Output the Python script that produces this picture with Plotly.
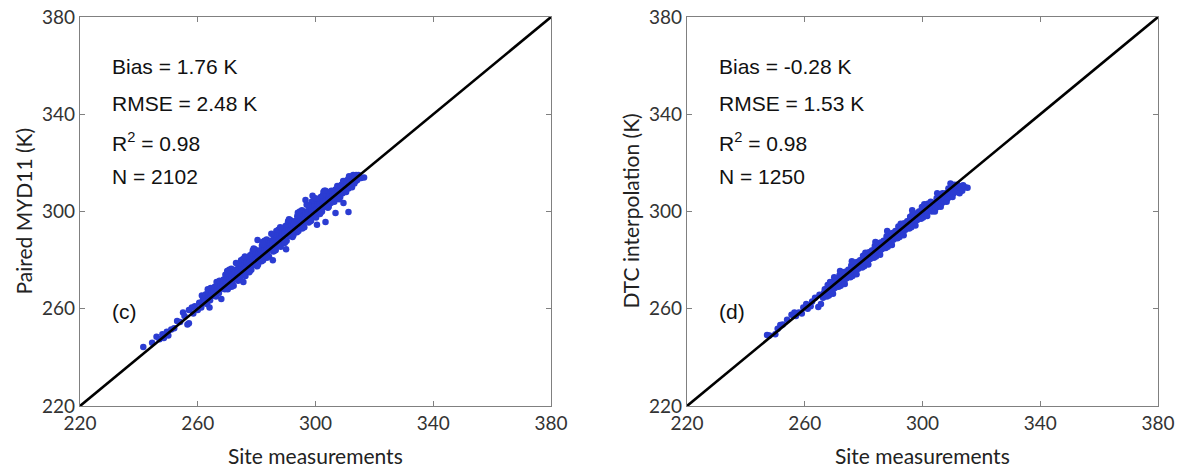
import plotly.graph_objects as go

# ---------------- data ----------------
ticks = [220, 260, 300, 340, 380]
axis_range = [220, 380]

# Panel (c): site measurements vs paired MYD11
site_c = [
    241.5, 244.5, 246.0, 247.0, 248.0, 248.5, 249.5, 250.0, 251.0, 252.0, 253.0, 254.0,
    255.0, 255.5, 256.5, 257.0, 257.0, 258.0, 258.5, 259.0, 260.0, 260.5,
    261.2, 261.5, 261.8, 261.4, 261.7, 262.2, 262.5, 262.8, 262.4, 262.7,
    263.2, 263.5, 263.8, 263.4, 263.7, 264.2, 264.5, 264.8, 264.4, 264.7,
    265.2, 265.5, 265.8, 265.4, 265.7, 266.2, 266.5, 266.8, 266.4, 266.7,
    267.2, 267.5, 267.8, 267.4, 267.7, 268.2, 268.5, 268.8, 268.4, 268.7,
    269.2, 269.5, 269.8, 269.4, 269.7, 270.2, 270.5, 270.8, 270.4, 270.7,
    271.2, 271.5, 271.8, 271.4, 271.7, 272.2, 272.5, 272.8, 272.4, 272.7,
    273.2, 273.5, 273.8, 273.4, 273.7, 274.2, 274.5, 274.8, 274.4, 274.7,
    275.2, 275.5, 275.8, 275.4, 275.7, 276.2, 276.5, 276.8, 276.4, 276.7,
    277.2, 277.5, 277.8, 277.4, 277.7, 278.2, 278.5, 278.8, 278.4, 278.7,
    279.2, 279.5, 279.8, 279.4, 279.7, 280.2, 280.5, 280.8, 280.4, 280.7,
    281.2, 281.5, 281.8, 281.4, 281.7, 282.2, 282.5, 282.8, 282.4, 282.7,
    283.2, 283.5, 283.8, 283.4, 283.7, 284.2, 284.5, 284.8, 284.4, 284.7,
    285.2, 285.5, 285.8, 285.4, 285.7, 286.2, 286.5, 286.8, 286.4, 286.7,
    287.2, 287.5, 287.8, 287.4, 287.7, 288.2, 288.5, 288.8, 288.4, 288.7,
    289.2, 289.5, 289.8, 289.4, 289.7, 290.2, 290.5, 290.8, 290.4, 290.7,
    291.2, 291.5, 291.8, 291.4, 291.7, 292.2, 292.5, 292.8, 292.4, 292.7,
    293.2, 293.5, 293.8, 293.4, 293.7, 294.2, 294.5, 294.8, 294.4, 294.7,
    295.2, 295.5, 295.8, 295.4, 295.7, 296.2, 296.5, 296.8, 296.4, 296.7,
    297.2, 297.5, 297.8, 297.4, 297.7, 298.2, 298.5, 298.8, 298.4, 298.7,
    299.2, 299.5, 299.8, 299.4, 299.7, 300.2, 300.5, 300.8, 300.4, 300.7,
    301.2, 301.5, 301.8, 301.4, 301.7, 302.2, 302.5, 302.8, 302.4, 302.7,
    303.2, 303.5, 303.8, 303.4, 303.7, 304.2, 304.5, 304.8, 304.4, 304.7,
    305.2, 305.5, 305.8, 305.4, 305.7, 306.2, 306.5, 306.8, 306.4, 306.7,
    307.2, 307.5, 307.8, 307.4, 307.7, 308.2, 308.5, 308.8, 308.4, 308.7,
    309.2, 309.5, 309.8, 309.4, 309.7, 310.2, 310.5, 310.8, 310.4, 310.7,
    311.2, 311.5, 311.8, 311.4, 311.7, 312.2, 312.5, 312.8, 312.4, 312.7,
    313.2, 313.5, 313.8, 313.4, 313.7, 314.2, 314.6, 315.0, 315.5, 316.5,
    311.2, 306.8, 303.4, 296.6, 280.3, 300.5, 309.5, 308.0, 290.0, 285.5,
    275.5, 268.0, 264.0, 299.0,
    270.0, 273.0, 276.0, 279.0, 282.0, 285.0, 288.0, 291.0, 294.0, 297.0, 300.0, 303.0,
    271.5, 274.5, 277.5, 280.5, 283.5, 286.5, 289.5, 292.5, 295.5, 298.5, 301.5, 304.5,
]
myd11_c = [
    244.3, 246.0, 248.5, 247.5, 249.5, 248.0, 250.5, 249.0, 251.5, 252.0, 255.0, 254.5,
    258.5, 257.0, 253.5, 254.0, 259.5, 260.5, 258.0, 261.0, 259.5, 262.5,
    260.5, 262.5, 264.0, 265.5, 263.2, 262.3, 264.5, 266.0, 263.0, 265.6,
    262.0, 265.0, 266.3, 268.0, 264.4, 263.5, 265.5, 267.0, 268.5, 266.2,
    265.3, 267.5, 269.0, 266.0, 268.6, 265.0, 268.0, 269.3, 271.0, 267.4,
    266.5, 268.5, 270.0, 271.5, 269.2, 268.3, 270.5, 272.0, 269.0, 271.6,
    268.0, 271.0, 272.3, 274.0, 270.4, 268.0, 270.5, 272.5, 274.5, 276.0,
    270.0, 272.5, 274.5, 276.5, 271.0, 269.5, 274.0, 276.0, 273.0, 275.0,
    272.5, 276.0, 278.0, 274.8, 271.5, 272.0, 274.5, 276.5, 278.5, 280.0,
    274.0, 276.5, 278.5, 280.5, 275.0, 273.5, 278.0, 280.0, 277.0, 279.0,
    276.5, 280.0, 282.0, 278.8, 275.5, 276.0, 278.5, 280.5, 282.5, 284.0,
    278.0, 280.5, 282.5, 284.5, 279.0, 277.5, 282.0, 284.0, 281.0, 283.0,
    280.5, 284.0, 286.0, 282.8, 279.5, 280.0, 282.5, 284.5, 286.5, 288.0,
    282.0, 284.5, 286.5, 288.5, 283.0, 281.5, 286.0, 288.0, 285.0, 287.0,
    284.5, 288.0, 290.0, 286.8, 283.5, 284.0, 286.5, 288.5, 290.5, 292.0,
    286.0, 288.5, 290.5, 292.5, 287.0, 285.5, 290.0, 292.0, 289.0, 291.0,
    288.5, 292.0, 294.0, 290.8, 287.5, 288.0, 290.5, 292.5, 294.5, 296.0,
    290.0, 292.5, 294.5, 296.5, 291.0, 289.5, 294.0, 296.0, 293.0, 295.0,
    292.5, 296.0, 298.0, 294.8, 291.5, 292.0, 294.5, 296.5, 298.5, 300.0,
    294.0, 296.5, 298.5, 300.5, 295.0, 293.5, 298.0, 300.0, 297.0, 299.0,
    296.5, 300.0, 302.0, 298.8, 295.5, 296.0, 298.5, 300.5, 302.5, 304.0,
    298.0, 300.5, 302.5, 304.5, 299.0, 297.5, 302.0, 304.0, 301.0, 303.0,
    300.5, 304.0, 306.0, 302.8, 299.5, 300.0, 302.5, 304.5, 306.5, 308.0,
    302.0, 304.5, 306.5, 308.5, 303.0, 301.5, 306.0, 308.0, 305.0, 307.0,
    303.5, 305.5, 307.0, 308.5, 306.2, 305.5, 307.5, 309.0, 304.0, 308.4,
    305.5, 307.5, 309.0, 310.5, 308.2, 307.5, 309.5, 311.0, 306.0, 310.4,
    307.5, 309.5, 311.0, 312.5, 310.2, 309.5, 311.5, 313.0, 308.0, 312.4,
    309.5, 311.5, 313.0, 314.5, 312.2, 311.5, 313.5, 315.0, 310.0, 314.4,
    311.5, 313.5, 315.0, 314.0, 312.5, 313.0, 315.0, 314.2, 313.8, 314.0,
    299.8, 299.4, 295.7, 304.7, 288.3, 294.5, 303.5, 305.0, 284.5, 280.0,
    271.0, 264.0, 260.5, 306.5,
    275.5, 278.8, 281.5, 284.8, 287.5, 290.8, 293.5, 296.8, 299.5, 302.8, 305.5, 308.5,
    269.0, 272.2, 275.0, 278.2, 281.0, 284.2, 287.0, 290.2, 293.0, 296.2, 299.0, 302.0,
]

# Panel (d): site measurements vs DTC interpolation
site_d = [
    247.2, 248.0, 250.0, 250.8, 251.7, 252.5, 254.0, 255.5, 256.5, 257.0, 258.0, 259.0,
    259.5, 260.5, 261.0, 262.0, 262.5, 263.5, 264.6, 265.0, 265.5,
    266.2, 266.5, 266.8, 266.6, 267.2, 267.5, 267.8, 267.6, 268.2, 268.5, 268.8, 268.6,
    269.2, 269.5, 269.8, 269.6, 270.2, 270.5, 270.8, 270.6, 271.2, 271.5, 271.8, 271.6,
    272.2, 272.5, 272.8, 272.6, 273.2, 273.5, 273.8, 273.6, 274.2, 274.5, 274.8, 274.6,
    275.2, 275.5, 275.8, 275.6, 276.2, 276.5, 276.8, 276.6, 277.2, 277.5, 277.8, 277.6,
    278.2, 278.5, 278.8, 278.6, 279.2, 279.5, 279.8, 279.6, 280.2, 280.5, 280.8, 280.6,
    281.2, 281.5, 281.8, 281.6, 282.2, 282.5, 282.8, 282.6, 283.2, 283.5, 283.8, 283.6,
    284.2, 284.5, 284.8, 284.6, 285.2, 285.5, 285.8, 285.6, 286.2, 286.5, 286.8, 286.6,
    287.2, 287.5, 287.8, 287.6, 288.2, 288.5, 288.8, 288.6, 289.2, 289.5, 289.8, 289.6,
    290.2, 290.5, 290.8, 290.6, 291.2, 291.5, 291.8, 291.6, 292.2, 292.5, 292.8, 292.6,
    293.2, 293.5, 293.8, 293.6, 294.2, 294.5, 294.8, 294.6, 295.2, 295.5, 295.8, 295.6,
    296.2, 296.5, 296.8, 296.6, 297.2, 297.5, 297.8, 297.6, 298.2, 298.5, 298.8, 298.6,
    299.2, 299.5, 299.8, 299.6, 300.2, 300.5, 300.8, 300.6, 301.2, 301.5, 301.8, 301.6,
    302.2, 302.5, 302.8, 302.6, 303.2, 303.5, 303.8, 303.6, 304.2, 304.5, 304.8, 304.6,
    305.2, 305.5, 305.8, 305.6, 306.2, 306.5, 306.8, 306.6, 307.2, 307.5, 307.8, 307.6,
    308.2, 308.5, 308.8, 308.6, 309.2, 309.5, 309.8, 309.6, 310.2, 310.5, 310.8, 310.6,
    311.2, 311.5, 311.8, 311.6, 312.2, 312.5, 312.8, 312.6, 313.2, 313.5, 313.8, 314.5,
    315.3, 309.5, 305.0, 296.5, 288.0, 284.0, 276.0, 272.0, 270.0,
]
dtc_d = [
    249.2, 249.0, 249.5, 251.8, 253.3, 253.5, 255.5, 257.5, 258.5, 257.0, 258.5, 258.0,
    260.5, 262.0, 260.0, 261.0, 263.0, 264.5, 260.7, 265.8, 262.0,
    264.5, 266.5, 268.0, 265.5, 268.0, 265.0, 269.8, 267.0, 265.5, 269.5, 267.0, 271.0,
    269.3, 267.8, 271.2, 266.2, 268.5, 270.5, 272.0, 269.5, 272.0, 269.0, 273.8, 271.0,
    269.5, 273.5, 271.0, 275.0, 273.3, 271.8, 275.2, 270.2, 272.5, 274.5, 276.0, 273.5,
    276.0, 273.0, 277.8, 275.0, 273.5, 277.5, 275.0, 279.0, 277.3, 275.8, 279.2, 274.2,
    276.5, 278.5, 280.0, 277.5, 280.0, 277.0, 281.8, 279.0, 277.5, 281.5, 279.0, 283.0,
    281.3, 279.8, 283.2, 278.2, 280.5, 282.5, 284.0, 281.5, 284.0, 281.0, 285.8, 283.0,
    281.5, 285.5, 283.0, 287.0, 285.3, 283.8, 287.2, 282.2, 284.5, 286.5, 288.0, 285.5,
    288.0, 285.0, 289.8, 287.0, 285.5, 289.5, 287.0, 291.0, 289.3, 287.8, 291.2, 286.2,
    288.5, 290.5, 292.0, 289.5, 292.0, 289.0, 293.8, 291.0, 289.5, 293.5, 291.0, 295.0,
    293.3, 291.8, 295.2, 290.2, 292.5, 294.5, 296.0, 293.5, 296.0, 293.0, 297.8, 295.0,
    293.5, 297.5, 295.0, 299.0, 297.3, 295.8, 299.2, 294.2, 296.5, 298.5, 300.0, 297.5,
    300.0, 297.0, 301.8, 299.0, 297.5, 301.5, 299.0, 303.0, 301.3, 299.8, 303.2, 298.2,
    300.5, 302.5, 304.0, 301.5, 300.0, 302.0, 303.5, 301.0, 300.0, 303.5, 305.5, 301.5,
    302.0, 304.0, 305.5, 303.0, 302.0, 305.5, 307.5, 303.5, 304.0, 306.0, 307.5, 305.0,
    304.0, 307.5, 309.5, 305.5, 306.0, 308.0, 309.5, 307.0, 306.0, 309.5, 311.0, 307.5,
    308.0, 310.0, 311.0, 309.0, 308.5, 310.5, 309.5, 307.5, 310.0, 308.5, 310.8, 310.0,
    309.8, 311.5, 307.5, 300.5, 292.0, 287.5, 279.5, 275.5, 273.0,
]

stats_c = ["Bias = 1.76 K", "RMSE = 2.48 K", "R<sup>2</sup> = 0.98", "N = 2102"]
stats_d = ["Bias = -0.28 K", "RMSE = 1.53 K", "R<sup>2</sup> = 0.98", "N = 1250"]
stat_levels = [359.5, 344.5, 328.5, 314.5]
panel_labels = ["(c)", "(d)"]
y_titles = ["Paired MYD11 (K)", "DTC interpolation (K)"]
x_title = "Site measurements"

# ---------------- figure ----------------
W, H = 1182, 471
dot_color = "#2B3CD2"
ann_font = dict(family="Liberation Sans, Arial, sans-serif", size=21, color="#111")
tick_font = dict(family="Lato, Open Sans, sans-serif", size=19, color="#333")
title_font = dict(family="Lato, Open Sans, sans-serif", size=21, color="#222")

fig = go.Figure()

panels = [
    ("x", "y", site_c, myd11_c),
    ("x2", "y2", site_d, dtc_d),
]
for xa, ya, xs, ys in panels:
    fig.add_trace(go.Scatter(
        x=xs, y=ys, mode="markers", xaxis=xa, yaxis=ya,
        marker=dict(size=6.5, color=dot_color, line=dict(width=0)),
        showlegend=False, hoverinfo="x+y",
    ))
    fig.add_trace(go.Scatter(
        x=axis_range, y=axis_range, mode="lines", xaxis=xa, yaxis=ya,
        line=dict(color="black", width=2.6), showlegend=False, hoverinfo="skip",
    ))

annotations = []
for i, (xa, ya, stats) in enumerate([("x", "y", stats_c), ("x2", "y2", stats_d)]):
    for txt, lvl in zip(stats, stat_levels):
        annotations.append(dict(
            x=230.2, y=lvl, xref=xa, yref=ya, text=txt, showarrow=False,
            xanchor="left", yanchor="middle", font=ann_font,
        ))
    annotations.append(dict(
        x=230.2, y=258.7, xref=xa, yref=ya, text=panel_labels[i], showarrow=False,
        xanchor="left", yanchor="middle", font=ann_font,
    ))

# axis titles (placed in paper coordinates)
x_domains = [[80 / W, 551 / W], [687 / W, 1158 / W]]
y_domain = [(H - 406) / H, (H - 17) / H]
for i, dom in enumerate(x_domains):
    annotations.append(dict(
        x=(dom[0] + dom[1]) / 2, y=(H - 455) / H, xref="paper", yref="paper",
        text=x_title, showarrow=False, xanchor="center", yanchor="middle",
        font=title_font,
    ))
    annotations.append(dict(
        x=(dom[0] * W - 57) / W, y=(y_domain[0] + y_domain[1]) / 2,
        xref="paper", yref="paper", text=y_titles[i], showarrow=False,
        textangle=-90, xanchor="center", yanchor="middle", font=title_font,
    ))

axis_common = dict(
    range=axis_range, tickvals=ticks, ticks="inside", ticklen=5, tickwidth=1,
    tickcolor="#808080", showline=True, linecolor="#808080", linewidth=1.2,
    mirror="ticks", showgrid=False, zeroline=False, tickfont=tick_font,
    automargin=False,
)

fig.update_layout(
    width=W, height=H,
    margin=dict(l=0, r=0, t=0, b=0, pad=0, autoexpand=False),
    paper_bgcolor="white", plot_bgcolor="white",
    xaxis=dict(domain=x_domains[0], anchor="y", **axis_common),
    yaxis=dict(domain=y_domain, anchor="x", **axis_common),
    xaxis2=dict(domain=x_domains[1], anchor="y2", **axis_common),
    yaxis2=dict(domain=y_domain, anchor="x2", **axis_common),
    annotations=annotations,
)

fig.write_html(
    "out.html",
    config={"displayModeBar": False},
    post_script="document.body.style.margin='0';document.body.style.overflow='hidden';",
)
